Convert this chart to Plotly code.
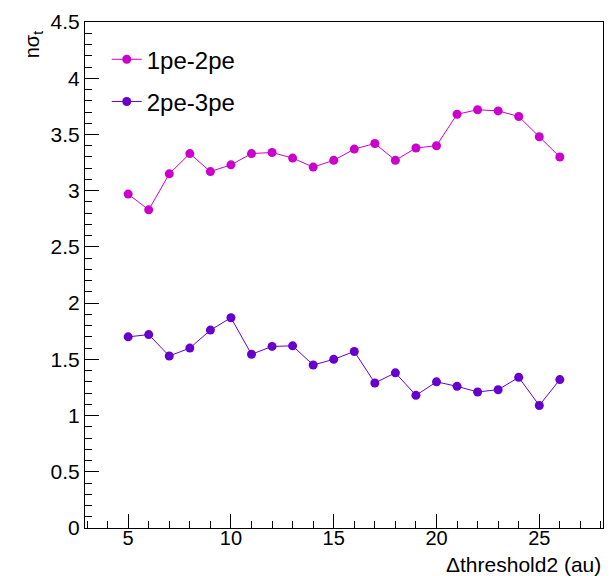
import plotly.graph_objects as go

threshold = [5, 6, 7, 8, 9, 10, 11, 12, 13, 14, 15, 16, 17, 18, 19, 20, 21, 22, 23, 24, 25, 26]
pe12 = [2.97, 2.83, 3.15, 3.33, 3.17, 3.23, 3.33, 3.34, 3.29, 3.21, 3.27, 3.37, 3.42,
        3.27, 3.38, 3.40, 3.68, 3.72, 3.71, 3.66, 3.48, 3.30]
pe23 = [1.70, 1.72, 1.53, 1.60, 1.76, 1.87, 1.545, 1.615, 1.62, 1.45, 1.50, 1.57, 1.29,
        1.38, 1.18, 1.30, 1.26, 1.21, 1.23, 1.34, 1.09, 1.32]
names = ["1pe-2pe", "2pe-3pe"]
colors = ["#cc00cc", "#6600cc"]
ytick_vals = [0, 0.5, 1, 1.5, 2, 2.5, 3, 3.5, 4, 4.5]
ytick_text = ["0", "0.5", "1", "1.5", "2", "2.5", "3", "3.5", "4", "4.5"]
xtick_vals = [5, 10, 15, 20, 25]
xtick_text = ["5", "10", "15", "20", "25"]

FONT = "Liberation Sans, Arial, Helvetica, sans-serif"

fig = go.Figure()
for ys, name, col in zip([pe12, pe23], names, colors):
    fig.add_trace(go.Scatter(
        x=threshold, y=ys, name=name, mode="lines+markers",
        line=dict(color=col, width=1),
        marker=dict(color=col, size=9, symbol="circle"),
        legendgroup=name,
    ))

axis_common = dict(
    showline=True, linecolor="black", linewidth=1, mirror=True,
    ticks="inside", tickcolor="black", ticklen=14, tickwidth=1,
    showgrid=False, zeroline=False, ticklabeloverflow="allow",
)

fig.update_xaxes(range=[2.9, 28.1], tickmode="array", tickvals=xtick_vals, ticktext=xtick_text,
                 minor=dict(ticks="inside", ticklen=7, dtick=1, tick0=0, tickcolor="black", showgrid=False),
                 ticklabelstandoff=-8,
                 tickfont=dict(family=FONT, size=20, color="black"),
                 **axis_common)
fig.update_yaxes(range=[0, 4.5005], tickmode="array", tickvals=ytick_vals, ticktext=ytick_text,
                 minor=dict(ticks="inside", ticklen=7, dtick=0.1, tick0=0, tickcolor="black", showgrid=False),
                 ticklabelstandoff=0,
                 tickfont=dict(family=FONT, size=21, color="black"),
                 **axis_common)

fig.add_annotation(text="\u0394threshold2 (au)", xref="paper", yref="paper",
                   x=1.0, y=-0.046, xanchor="right", yanchor="top", showarrow=False,
                   font=dict(family=FONT, size=21, color="black"))
fig.add_annotation(text="n\u03c3<sub>t</sub>", xref="paper", yref="paper",
                   x=-0.1, y=0.985, xanchor="center", yanchor="top", textangle=-90,
                   showarrow=False, font=dict(family=FONT, size=20, color="black"))

fig.update_layout(
    width=614, height=576,
    margin=dict(l=85, r=10, t=10, b=48),
    plot_bgcolor="white", paper_bgcolor="white",
    showlegend=True,
    legend=dict(x=0.042, y=0.97, xanchor="left", yanchor="top",
                bgcolor="rgba(0,0,0,0)", font=dict(family=FONT, size=24, color="black"),
                tracegroupgap=8, traceorder="grouped"),
)

fig.write_html("out.html", config={"displayModeBar": False},
               post_script="document.body.style.margin='0';")
